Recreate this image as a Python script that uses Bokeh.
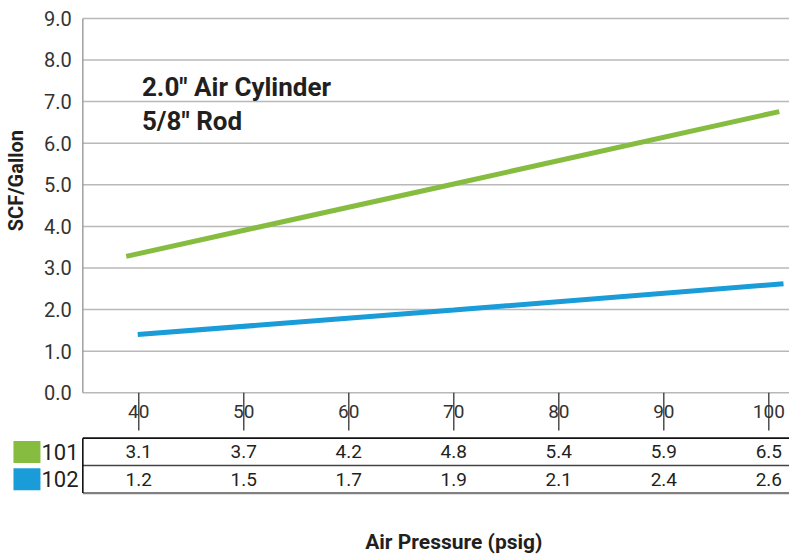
import math
from bokeh.plotting import figure
from bokeh.models import Range1d, FixedTicker, NumeralTickFormatter
from bokeh.core.properties import value
from bokeh.embed import file_html
from bokeh.resources import INLINE

# ---------------- data ----------------
pressures = [40, 50, 60, 70, 80, 90, 100]
series_names = ["101", "102"]
table_101 = [3.1, 3.7, 4.2, 4.8, 5.4, 5.9, 6.5]
table_102 = [1.2, 1.5, 1.7, 1.9, 2.1, 2.4, 2.6]
# plotted curves
line_101_x = [38.8, 70, 101.0]
line_101_y = [3.28, 5.02, 6.76]
line_102_x = [39.9, 70, 101.4]
line_102_y = [1.40, 1.99, 2.62]
y_ticks = [0, 1, 2, 3, 4, 5, 6, 7, 8, 9]
title_lines = ['2.0" Air Cylinder', '5/8" Rod']
x_label = "Air Pressure (psig)"
y_label = "SCF/Gallon"

# ---------------- style ----------------
GREEN = "#86bc40"
BLUE = "#1a9cd8"
TEXT = "#231f20"
GRID = "#b8b8b8"
FONT = "Roboto"

X_LO, X_HI = 26.83, 101.97      # whole canvas width
Y_LO, Y_HI = -3.983, 9.430      # whole canvas height
X_AXIS = 34.67                  # left edge of the chart area
ROW_H = 0.66
TABLE_TOP = -1.09
TICK_LEN = 0.906

p = figure(width=789, height=558, output_backend="svg", toolbar_location=None,
           x_range=Range1d(X_LO, X_HI), y_range=Range1d(Y_LO, Y_HI),
           min_border=0, x_axis_location=None, y_axis_location="left")
p.outline_line_color = None
p.background_fill_color = "white"
p.xgrid.visible = False
p.ygrid.visible = False

# y axis pinned to the chart's left edge
yax = p.yaxis[0]
yax.fixed_location = X_AXIS
yax.ticker = FixedTicker(ticks=y_ticks)
yax.formatter = NumeralTickFormatter(format="0.0")
yax.major_tick_in = 0
yax.major_tick_out = 0
yax.minor_tick_line_color = None
yax.axis_line_color = None
yax.major_label_text_font = FONT
yax.major_label_text_font_size = "20px"
yax.major_label_text_color = "#333333"
yax.major_label_standoff = 11

# horizontal grid lines over the chart area
p.segment(x0=[X_AXIS] * len(y_ticks), y0=y_ticks, x1=[X_HI] * len(y_ticks), y1=y_ticks,
          line_color=GRID, line_width=1.5)
# left border of chart
p.segment(x0=[X_AXIS], y0=[min(y_ticks)], x1=[X_AXIS], y1=[max(y_ticks)],
          line_color="#a0a0a0", line_width=1.5)

# curves
p.line(line_101_x, line_101_y, line_color=GREEN, line_width=5)
p.line(line_102_x, line_102_y, line_color=BLUE, line_width=5)

# x tick marks and labels
p.segment(x0=pressures, y0=[0] * len(pressures), x1=pressures,
          y1=[-TICK_LEN] * len(pressures), line_color="#333333", line_width=1.3)
p.text(x=pressures, y=[-0.46] * len(pressures), text=[str(v) for v in pressures],
       text_font=value(FONT), text_font_size="19px", text_color="#333333",
       text_align="center", text_baseline="middle")

# data table
rows = [table_101, table_102]
colors = [GREEN, BLUE]
n_rows = len(rows)
row_lines_y = [TABLE_TOP - i * ROW_H for i in range(n_rows + 1)]
p.segment(x0=[X_AXIS] * 3, y0=row_lines_y, x1=[X_HI] * 3, y1=row_lines_y,
          line_color=["#111111", "#444444", "#808080"], line_width=[1.6, 1.5, 2.2])
p.segment(x0=[X_AXIS], y0=[row_lines_y[0]], x1=[X_AXIS], y1=[row_lines_y[-1]],
          line_color="#111111", line_width=1.6)
row_centers = [TABLE_TOP - (i + 0.5) * ROW_H for i in range(n_rows)]
for i, row in enumerate(rows):
    p.text(x=pressures, y=[row_centers[i]] * len(pressures), text=[f"{v:.1f}" for v in row],
           text_font=value(FONT), text_font_size="19px", text_color=TEXT,
           text_align="center", text_baseline="middle")

# row keys (colour swatch + series name)
p.rect(x=[29.35] * n_rows, y=row_centers, width=27, height=22,
       width_units="screen", height_units="screen", fill_color=colors, line_color=None)
p.text(x=[30.73] * n_rows, y=row_centers, text=series_names,
       text_font=value(FONT), text_font_size="22px", text_color=TEXT,
       text_align="left", text_baseline="middle")

# chart annotation
for i, t in enumerate(title_lines):
    p.text(x=[40.3], y=[7.36 - i * 0.83], text=[t], text_font=value(FONT),
           text_font_size="26px", text_font_style="bold", text_color=TEXT,
           text_baseline="middle")

# axis titles
p.text(x=[sum(pressures) / len(pressures)], y=[-3.59], text=[x_label],
       text_font=value(FONT), text_font_size="21px", text_font_style="bold",
       text_color=TEXT, text_align="center", text_baseline="middle")
p.text(x=[28.35], y=[5.10], text=[y_label], angle=math.pi / 2,
       text_font=value(FONT), text_font_size="20px", text_font_style="bold",
       text_color=TEXT, text_align="center", text_baseline="middle")

open("out.html", "w").write(file_html(p, INLINE))
